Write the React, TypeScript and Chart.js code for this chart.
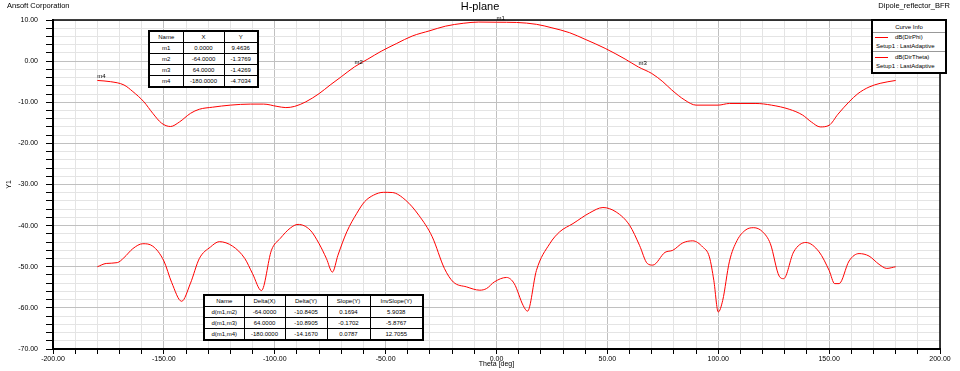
import React, { useEffect, useRef } from 'react';
import { Chart, registerables } from 'chart.js';
Chart.register(...registerables);

// dB(DirPhi)
const phiTheta = [-180, -174, -168, -164, -159, -155, -151, -147, -143, -138, -134, -128, -120, -111, -105, -99, -95, -91, -86, -80, -75, -70, -64, -58, -52, -45, -38, -30, -23, -15, -8, 0, 9, 18, 25, 33, 40, 49, 58, 64, 70, 75, 79, 85, 90, 100, 105, 117, 124, 132, 138, 142, 146, 150, 154, 159, 163, 168, 173, 180];
const phiDb = [-4.7, -5.0, -5.8, -7.4, -9.9, -12.7, -15.1, -15.9, -14.8, -12.7, -11.7, -11.2, -10.7, -10.45, -10.45, -11.0, -11.3, -11.0, -9.9, -7.9, -5.8, -3.8, -1.38, 0.5, 2.4, 4.3, 6.1, 7.4, 8.5, 9.2, 9.5, 9.46, 9.4, 8.95, 8.1, 6.9, 5.3, 3.1, 0.5, -1.43, -3.0, -5.0, -7.0, -9.5, -10.7, -10.7, -10.3, -10.3, -10.7, -11.7, -13.1, -14.8, -16.0, -15.6, -12.9, -9.9, -7.9, -6.3, -5.4, -4.7];

// dB(DirTheta)
const thTheta = [-180, -176, -171, -168, -164, -159.5, -155, -150, -146.5, -142, -138, -134, -129, -125, -119, -113.5, -110, -106, -101.5, -97.5, -93, -89.5, -84, -80, -76.7, -74, -71.5, -67.5, -63, -59.5, -55.5, -51, -47, -41, -35, -29, -23.5, -19.5, -13.5, -7.5, -4.5, -1, 4.5, 8, 12, 14, 18, 24, 28.5, 34.5, 42, 48, 54, 60, 64.5, 68, 70.5, 76, 79.5, 84, 88.5, 93, 96, 98, 100, 102, 105, 108.5, 112.5, 116, 120, 123.5, 127.5, 129.5, 134, 139.5, 145.5, 150, 152.5, 154.5, 159, 163.5, 168, 172.5, 176, 180];
const thDb = [-50.0, -49.2, -49.0, -47.8, -45.6, -44.4, -45.0, -48.6, -53.8, -58.4, -54.0, -48.0, -45.2, -43.9, -45.0, -48.0, -51.7, -55.8, -46.0, -43.1, -40.6, -39.7, -41.1, -44.4, -48.0, -51.3, -47.2, -41.5, -37.0, -34.2, -32.6, -31.9, -31.95, -33.8, -37.5, -42.7, -50.4, -53.7, -54.9, -55.7, -55.3, -53.7, -52.6, -54.1, -59.4, -60.8, -50.9, -44.4, -41.5, -39.5, -36.9, -35.6, -36.7, -39.9, -44.8, -49.2, -49.6, -46.5, -46.0, -44.2, -43.7, -45.2, -47.6, -53.3, -61.0, -58.2, -48.8, -43.6, -41.0, -40.5, -41.5, -44.4, -52.3, -52.9, -46.4, -44.1, -46.4, -50.9, -54.1, -54.1, -48.6, -46.8, -47.4, -49.4, -50.4, -50.0];

const markerNames = ['m1', 'm2', 'm3', 'm4'];
const markerX = [0, -64, 64, -180];
const markerY = [9.4636, -1.3769, -1.4269, -4.7034];

const deltaNames = ['d(m1,m2)', 'd(m1,m3)', 'd(m1,m4)'];
const deltaX = ['-64.0000', '64.0000', '-180.0000'];
const deltaY = ['-10.8405', '-10.8905', '-14.1670'];
const slopeY = ['0.1694', '-0.1702', '0.0787'];
const invSlopeY = ['5.9038', '-5.8767', '12.7055'];

const seriesNames = ['dB(DirPhi)', 'dB(DirTheta)'];
const setupName = 'Setup1 : LastAdaptive';

const FONT = '"Liberation Sans", Arial, sans-serif';

const cell: React.CSSProperties = {
  border: '1px solid #000',
  padding: 0,
  fontSize: 6,
  lineHeight: '6px',
  textAlign: 'center',
  fontFamily: FONT,
  color: '#000',
  whiteSpace: 'nowrap',
  overflow: 'hidden',
};

function MarkerTable() {
  const rowH = 10;
  return (
    <table style={{ position: 'absolute', left: 148, top: 30, width: 109, borderCollapse: 'collapse', tableLayout: 'fixed', border: '2px solid #000', background: '#fff' }}>
      <colgroup>
        <col style={{ width: 34 }} />
        <col style={{ width: 41 }} />
        <col style={{ width: 34 }} />
      </colgroup>
      <tbody>
        <tr>
          <td style={{ ...cell, height: rowH }}>Name</td>
          <td style={{ ...cell, height: rowH }}>X</td>
          <td style={{ ...cell, height: rowH }}>Y</td>
        </tr>
        {markerNames.map((n, i) => (
          <tr key={n}>
            <td style={{ ...cell, height: rowH }}>{n}</td>
            <td style={{ ...cell, height: rowH }}>{markerX[i].toFixed(4)}</td>
            <td style={{ ...cell, height: rowH }}>{markerY[i].toFixed(4)}</td>
          </tr>
        ))}
      </tbody>
    </table>
  );
}

function DeltaTable() {
  const rowH = 10;
  return (
    <table style={{ position: 'absolute', left: 203, top: 294, width: 219, borderCollapse: 'collapse', tableLayout: 'fixed', border: '2px solid #000', background: '#fff' }}>
      <colgroup>
        <col style={{ width: 40 }} />
        <col style={{ width: 41 }} />
        <col style={{ width: 42 }} />
        <col style={{ width: 43 }} />
        <col style={{ width: 53 }} />
      </colgroup>
      <tbody>
        <tr>
          {['Name', 'Delta(X)', 'Delta(Y)', 'Slope(Y)', 'InvSlope(Y)'].map((h) => (
            <td key={h} style={{ ...cell, height: rowH }}>{h}</td>
          ))}
        </tr>
        {deltaNames.map((n, i) => (
          <tr key={n}>
            <td style={{ ...cell, height: rowH }}>{n}</td>
            <td style={{ ...cell, height: rowH }}>{deltaX[i]}</td>
            <td style={{ ...cell, height: rowH }}>{deltaY[i]}</td>
            <td style={{ ...cell, height: rowH }}>{slopeY[i]}</td>
            <td style={{ ...cell, height: rowH }}>{invSlopeY[i]}</td>
          </tr>
        ))}
      </tbody>
    </table>
  );
}

function Legend() {
  const txt: React.CSSProperties = { position: 'absolute', fontSize: 6, lineHeight: '6px', fontFamily: FONT, color: '#000', whiteSpace: 'nowrap' };
  return (
    <div style={{ position: 'absolute', left: 871, top: 19, width: 72, height: 51, border: '2px solid #000', background: '#fff' }}>
      <div style={{ ...txt, left: 0, width: 72, textAlign: 'center', top: 3 }}>Curve Info</div>
      <div style={{ position: 'absolute', left: 0, width: 72, top: 11, height: 1, background: '#999' }} />
      {seriesNames.map((s, i) => (
        <React.Fragment key={s}>
          <div style={{ position: 'absolute', left: 2, width: 13, top: 16 + i * 20, height: 1, background: '#ff0000' }} />
          <div style={{ ...txt, left: 22, top: 13 + i * 20 }}>{s}</div>
          <div style={{ ...txt, left: 3, top: 22 + i * 20 }}>{setupName}</div>
          {i === 0 && <div style={{ position: 'absolute', left: 0, width: 72, top: 30, height: 1, background: '#999' }} />}
        </React.Fragment>
      ))}
    </div>
  );
}

export default function App() {
  const canvasRef = useRef<HTMLCanvasElement>(null);

  useEffect(() => {
    const canvas = canvasRef.current;
    if (!canvas) return;

    const frame = {
      id: 'frame',
      afterDraw(chart: any) {
        const { ctx, chartArea: a } = chart;
        ctx.save();
        ctx.strokeStyle = '#000';
        ctx.lineWidth = 1.5;
        ctx.beginPath();
        ctx.moveTo(a.left, a.top);
        ctx.lineTo(a.right, a.top);
        ctx.lineTo(a.right, a.bottom);
        ctx.stroke();
        const xs = chart.scales.x;
        const ys = chart.scales.y;
        ctx.font = '6px ' + FONT;
        ctx.fillStyle = '#000';
        ctx.textAlign = 'left';
        ctx.textBaseline = 'bottom';
        markerNames.forEach((n, i) => {
          const px = xs.getPixelForValue(markerX[i]);
          const py = ys.getPixelForValue(markerY[i]);
          ctx.fillText(n, px, py - 1);
        });
        ctx.restore();
      },
    };

    const chart = new Chart(canvas, {
      type: 'line',
      data: {
        datasets: [
          {
            label: seriesNames[0],
            data: phiTheta.map((t, i) => ({ x: t, y: phiDb[i] })),
            borderColor: '#ff0000',
            borderWidth: 1,
            pointRadius: 0,
            cubicInterpolationMode: 'monotone',
          },
          {
            label: seriesNames[1],
            data: thTheta.map((t, i) => ({ x: t, y: thDb[i] })),
            borderColor: '#ff0000',
            borderWidth: 1,
            pointRadius: 0,
            cubicInterpolationMode: 'monotone',
          },
        ],
      },
      options: {
        animation: false,
        responsive: false,
        maintainAspectRatio: false,
        devicePixelRatio: 1,
        layout: { padding: { top: 20, right: 20, left: 0, bottom: 0 } },
        plugins: { legend: { display: false }, tooltip: { enabled: false } },
        scales: {
          x: {
            type: 'linear',
            min: -200,
            max: 200,
            afterFit: (s: any) => { s.height = 22; },
            ticks: {
              stepSize: 10,
              autoSkip: false,
              maxRotation: 0,
              maxTicksLimit: 100,
              padding: 1,
              color: '#000',
              font: { family: FONT, size: 7 },
              callback: (v: any) => (Math.round(v) % 50 === 0 ? Number(v).toFixed(2) : ''),
            },
            grid: {
              color: (c: any) => (c.tick && Math.round(c.tick.value) % 50 === 0 ? '#c0c0c0' : '#e4e4e4'),
              tickColor: '#000',
              tickLength: 5,
              lineWidth: 1,
            },
            border: { color: '#000', width: 2 },
            title: { display: true, text: 'Theta [deg]', color: '#000', font: { family: FONT, size: 7 }, padding: { top: 0, bottom: 3 } },
          },
          y: {
            type: 'linear',
            min: -70,
            max: 10,
            afterFit: (s: any) => { s.width = 53; },
            ticks: {
              stepSize: 2,
              autoSkip: false,
              maxTicksLimit: 100,
              padding: 8,
              color: '#000',
              font: { family: FONT, size: 7 },
              callback: (v: any) => (Math.round(v) % 10 === 0 ? Number(v).toFixed(2) : ''),
            },
            grid: {
              color: (c: any) => (c.tick && Math.round(c.tick.value) % 10 === 0 ? '#c0c0c0' : '#e4e4e4'),
              tickColor: '#000',
              tickLength: 7,
              lineWidth: 1,
            },
            border: { color: '#000', width: 2 },
            title: { display: true, text: 'Y1', color: '#000', font: { family: FONT, size: 7 }, padding: { top: 5, bottom: 0 } },
          },
        },
      },
      plugins: [frame],
    } as any);

    return () => chart.destroy();
  }, []);

  const head: React.CSSProperties = { position: 'absolute', fontFamily: FONT, color: '#000', whiteSpace: 'nowrap' };

  return (
    <div style={{ position: 'fixed', left: 0, top: 0, width: 960, height: 371, background: '#fff', overflow: 'hidden' }}>
      <canvas ref={canvasRef} width={960} height={371} style={{ position: 'absolute', left: 0, top: 0, width: 960, height: 371 }} />
      <div style={{ ...head, left: 7, top: 1, fontSize: 7.5, lineHeight: '9px' }}>Ansoft Corporation</div>
      <div style={{ ...head, left: 380, width: 200, textAlign: 'center', top: 0, fontSize: 11, lineHeight: '13px' }}>H-plane</div>
      <div style={{ ...head, right: 10, top: 1, fontSize: 7.5, lineHeight: '9px' }}>Dipole_reflector_BFR</div>
      <MarkerTable />
      <DeltaTable />
      <Legend />
    </div>
  );
}
